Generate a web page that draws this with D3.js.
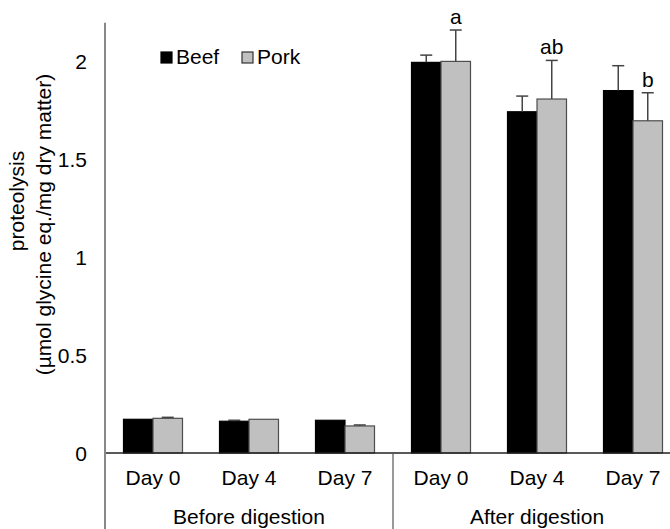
<!DOCTYPE html>
<html>
<head>
<meta charset="utf-8">
<script src="https://cdn.jsdelivr.net/npm/d3@7"></script>
<style>
  html, body { margin: 0; padding: 0; background: #fff; }
  svg { display: block; }
  text { font-family: "Liberation Sans", Arial, sans-serif; fill: #000; }
</style>
</head>
<body>
<svg id="chart" width="670" height="529"></svg>
<script>
// ---- data ----
const categories = ["Day 0", "Day 4", "Day 7", "Day 0 ", "Day 4 ", "Day 7 "];
const categoryLabels = ["Day 0", "Day 4", "Day 7", "Day 0", "Day 4", "Day 7"];
const groups = ["Before digestion", "After digestion"];
const groupSizes = [3, 3];
const series = ["Beef", "Pork"];
const beefValues = [0.172, 0.162, 0.167, 1.993, 1.741, 1.849];
const porkValues = [0.177, 0.172, 0.138, 1.998, 1.806, 1.695];
const beefErrors = [0.000, 0.005, 0.000, 0.037, 0.080, 0.127];
const porkErrors = [0.005, 0.000, 0.005, 0.160, 0.197, 0.143];
const porkLetters = ["", "", "", "a", "ab", "b"];
const yTicks = [0, 0.5, 1, 1.5, 2];
const yTickLabels = ["0", "0.5", "1", "1.5", "2"];

// ---- layout ----
const svg = d3.select("#chart");
const left = 105, bandW = 96;
const x0 = d3.scaleBand().domain(categories).range([left, left + bandW * categories.length]).padding(0);
const x1 = d3.scaleBand().domain(series).range([0, x0.bandwidth()]).paddingInner(0).paddingOuter(0.627);
const y = d3.scaleLinear().domain([0, 2.2]).range([453, 21.8]);
const fills = { Beef: "#000000", Pork: "#c0c0c0" };
const strokes = { Beef: "#000000", Pork: "#4d4d4d" };
const FS = 21;

// bars
const rows = categories.map((c, i) => ({
  cat: c,
  vals: [
    { s: "Beef", v: beefValues[i], e: beefErrors[i] },
    { s: "Pork", v: porkValues[i], e: porkErrors[i], letter: porkLetters[i] }
  ]
}));

const g = svg.append("g");
const cg = g.selectAll("g.cat").data(rows).join("g")
  .attr("transform", d => `translate(${x0(d.cat)},0)`);

cg.selectAll("rect").data(d => d.vals).join("rect")
  .attr("x", d => x1(d.s))
  .attr("y", d => y(d.v))
  .attr("width", x1.bandwidth())
  .attr("height", d => y(0) - y(d.v))
  .attr("fill", d => fills[d.s])
  .attr("stroke", d => strokes[d.s])
  .attr("stroke-width", 1.2);

// error bars (upper only)
const capW = 12;
const eb = cg.selectAll("g.err").data(d => d.vals.filter(v => v.e > 0)).join("g");
eb.append("line")
  .attr("x1", d => x1(d.s) + x1.bandwidth() / 2)
  .attr("x2", d => x1(d.s) + x1.bandwidth() / 2)
  .attr("y1", d => y(d.v))
  .attr("y2", d => y(d.v + d.e))
  .attr("stroke", "#444").attr("stroke-width", 1.5);
eb.append("line")
  .attr("x1", d => x1(d.s) + x1.bandwidth() / 2 - capW / 2)
  .attr("x2", d => x1(d.s) + x1.bandwidth() / 2 + capW / 2)
  .attr("y1", d => y(d.v + d.e))
  .attr("y2", d => y(d.v + d.e))
  .attr("stroke", "#444").attr("stroke-width", 1.5);

// significance letters
cg.selectAll("text.letter").data(d => d.vals.filter(v => v.letter)).join("text")
  .attr("class", "letter")
  .attr("x", d => x1(d.s) + x1.bandwidth() / 2)
  .attr("y", d => y(d.v + d.e) - 6)
  .attr("text-anchor", "middle")
  .attr("font-size", FS)
  .text(d => d.letter);

// x baseline
svg.append("line")
  .attr("x1", left).attr("x2", x0.range()[1])
  .attr("y1", y(0)).attr("y2", y(0))
  .attr("stroke", "#222").attr("stroke-width", 1.5);

// y axis line (extends to bottom)
svg.append("line")
  .attr("x1", left).attr("x2", left)
  .attr("y1", y.range()[1] + 1).attr("y2", 529)
  .attr("stroke", "#888").attr("stroke-width", 2);

// y tick labels
svg.selectAll("text.ytick").data(yTicks).join("text")
  .attr("class", "ytick")
  .attr("x", 87)
  .attr("y", d => y(d))
  .attr("dy", "0.36em")
  .attr("text-anchor", "end")
  .attr("font-size", FS)
  .text((d, i) => yTickLabels[i]);

// x category labels
svg.selectAll("text.xcat").data(categories).join("text")
  .attr("class", "xcat")
  .attr("x", d => x0(d) + x0.bandwidth() / 2)
  .attr("y", 485)
  .attr("text-anchor", "middle")
  .attr("font-size", FS)
  .text((d, i) => categoryLabels[i]);

// group labels and separators
let start = 0;
groups.forEach((gName, gi) => {
  const c0 = categories[start], c1 = categories[start + groupSizes[gi] - 1];
  const gx0 = x0(c0), gx1 = x0(c1) + x0.bandwidth();
  svg.append("text")
    .attr("x", (gx0 + gx1) / 2)
    .attr("y", 524)
    .attr("text-anchor", "middle")
    .attr("font-size", FS)
    .text(gName);
  if (gi > 0) {
    svg.append("line")
      .attr("x1", gx0).attr("x2", gx0)
      .attr("y1", y(0)).attr("y2", 529)
      .attr("stroke", "#555").attr("stroke-width", 1.2);
  }
  start += groupSizes[gi];
});

// y axis title (two lines)
svg.append("text")
  .attr("transform", "translate(24, 201) rotate(-90)")
  .attr("text-anchor", "middle")
  .attr("font-size", FS)
  .text("proteolysis");
svg.append("text")
  .attr("transform", "translate(51, 224.5) rotate(-90)")
  .attr("text-anchor", "middle")
  .attr("font-size", FS)
  .text("(µmol glycine eq./mg dry matter)");

// legend
const legendX = [161, 242];
const lg = svg.selectAll("g.legend").data(series).join("g")
  .attr("transform", (d, i) => `translate(${legendX[i]}, 52)`);
lg.append("rect")
  .attr("x", 0).attr("y", 0).attr("width", 11).attr("height", 11)
  .attr("fill", d => fills[d])
  .attr("stroke", d => d === "Pork" ? "#333" : "#000")
  .attr("stroke-width", 1.2);
lg.append("text")
  .attr("x", 15).attr("y", 11.5)
  .attr("font-size", FS)
  .text(d => d);
</script>
</body>
</html>
